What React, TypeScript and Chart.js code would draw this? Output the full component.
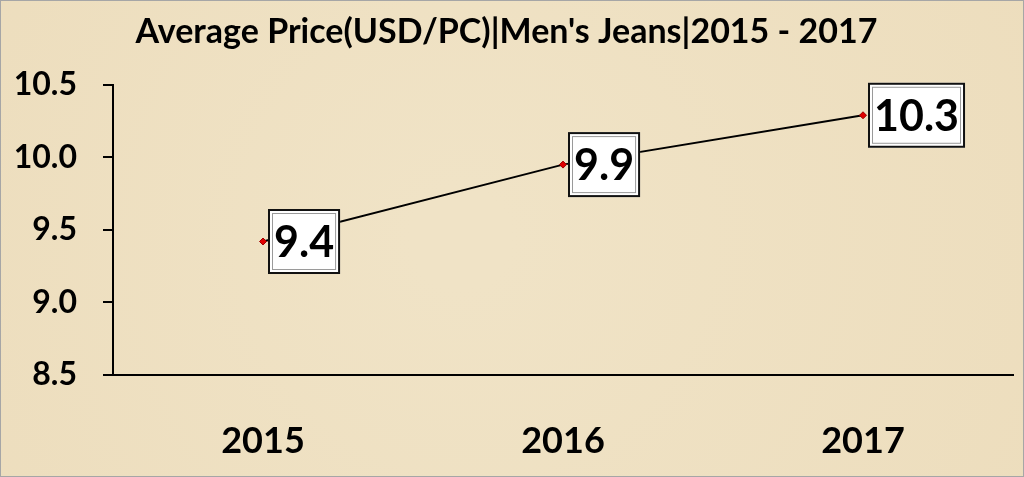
import React, { useEffect, useRef } from "react";
import { Chart, registerables } from "chart.js";

Chart.register(...registerables);

const categories = ["2015", "2016", "2017"];
const prices = [9.42, 9.95, 10.29];
const priceLabels = ["9.4", "9.9", "10.3"];
const titleText = "Average Price(USD/PC)|Men's Jeans|2015 - 2017";
const yMin = 8.5;
const yMax = 10.5;
const yStep = 0.5;

const FONT = "Lato, 'Open Sans', sans-serif";

const backgroundPlugin = {
  id: "parchment",
  beforeDraw(chart: any) {
    const { ctx, width, height } = chart;
    ctx.save();
    const g = ctx.createRadialGradient(width * 0.45, height * 0.5, 50, width * 0.5, height * 0.5, width * 0.7);
    g.addColorStop(0, "#f0e3c6");
    g.addColorStop(1, "#ecdcbb");
    ctx.fillStyle = g;
    ctx.fillRect(0, 0, width, height);
    ctx.strokeStyle = "#a6a6a6";
    ctx.lineWidth = 1;
    ctx.strokeRect(0.5, 0.5, width - 1, height - 1);
    ctx.restore();
  },
};

const boxLabelPlugin = {
  id: "boxLabels",
  afterDatasetsDraw(chart: any) {
    const { ctx } = chart;
    const meta = chart.getDatasetMeta(0);
    ctx.save();
    ctx.font = `bold 43px ${FONT}`;
    ctx.textBaseline = "middle";
    ctx.textAlign = "left";
    meta.data.forEach((pt: any, i: number) => {
      const text = priceLabels[i];
      const tw = ctx.measureText(text).width;
      const w = tw + 12;
      const h = 65;
      const left = pt.x + 5;
      const top = pt.y - h / 2;
      ctx.fillStyle = "#ffffff";
      ctx.fillRect(left, top, w, h);
      ctx.strokeStyle = "#9a9a9a";
      ctx.lineWidth = 1;
      ctx.strokeRect(left + 4.5, top + 4.5, w - 9, h - 9);
      ctx.strokeStyle = "#111111";
      ctx.lineWidth = 2;
      ctx.strokeRect(left + 1, top + 1, w - 2, h - 2);
      ctx.fillStyle = "#000000";
      ctx.fillText(text, left + 6, pt.y + 2);
    });
    ctx.restore();
  },
};

export default function App() {
  const ref = useRef<HTMLCanvasElement | null>(null);
  useEffect(() => {
    if (!ref.current) return;
    const chart = new Chart(ref.current, {
      type: "line",
      data: {
        labels: categories,
        datasets: [
          {
            data: prices,
            borderColor: "#000000",
            borderWidth: 2,
            pointStyle: "rectRot",
            pointRadius: 3.5,
            pointBackgroundColor: "#e00000",
            pointBorderColor: "#a00000",
            pointBorderWidth: 1,
            tension: 0,
          },
        ],
      },
      options: {
        responsive: false,
        animation: false,
        layout: { padding: { left: 0, right: 11, top: 0, bottom: 0 } },
        plugins: {
          legend: { display: false },
          tooltip: { enabled: false },
          title: {
            display: true,
            text: titleText,
            color: "#000000",
            font: { family: FONT, size: 34, weight: "bold" },
            padding: { top: 12, bottom: 32 },
          },
        },
        scales: {
          x: {
            offset: true,
            grid: { display: true, drawOnChartArea: false, drawTicks: false },
            border: { display: true, color: "#000000", width: 2 },
            ticks: {
              color: "#000000",
              font: { family: FONT, size: 36, weight: "bold" },
              padding: 45,
            },
            afterFit(scale: any) {
              scale.height = 102;
            },
          },
          y: {
            min: yMin,
            max: yMax,
            ticks: {
              stepSize: yStep,
              color: "#000000",
              font: { family: FONT, size: 32, weight: "bold" },
              padding: 26,
              callback: (v: any) => Number(v).toFixed(1),
            },
            grid: {
              display: true,
              drawOnChartArea: false,
              drawTicks: true,
              tickLength: 10,
              color: "#000000",
              lineWidth: 2,
            },
            border: { display: true, color: "#000000", width: 2 },
            afterFit(scale: any) {
              scale.width = 113;
            },
          },
        },
      },
      plugins: [backgroundPlugin, boxLabelPlugin],
    });
    return () => chart.destroy();
  }, []);
  return (
    <div style={{ position: "fixed", left: 0, top: 0, width: 1024, height: 477 }}>
      <canvas ref={ref} width={1024} height={477} style={{ display: "block" }} />
    </div>
  );
}
